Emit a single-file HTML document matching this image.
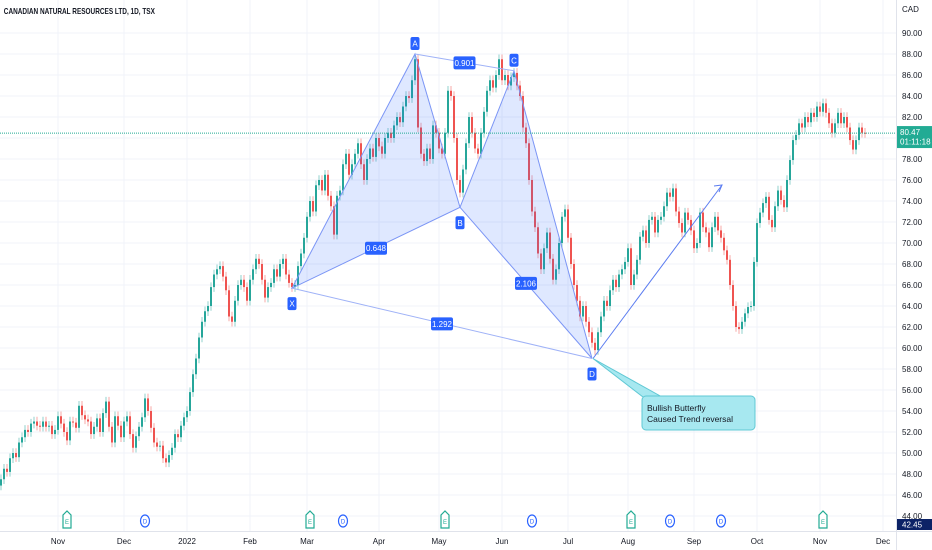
<!DOCTYPE html>
<html><head><meta charset="utf-8">
<style>
html,body{margin:0;padding:0;background:#fff;}
svg{display:block;font-family:"Liberation Sans",sans-serif;}
</style></head>
<body>
<svg id="chart" width="932" height="550" viewBox="0 0 932 550" xmlns="http://www.w3.org/2000/svg">
<g id="grid"></g>
<g id="candles"></g>
<g id="pattern"></g>
<g id="axes"></g>
<text x="5" y="14" font-size="8.5" fill="#131722" font-weight="600" transform="scale(0.76,1)">CANADIAN NATURAL RESOURCES LTD, 1D, TSX</text>
</svg>
<script>
const closes = [
47.5,48.5,48.2,49.5,50,49.6,51,51.5,52.2,52,
52.8,53,52.6,52.5,53,52.5,52.6,51.8,52.2,53.5,
52.8,52,51.2,53,52.9,52.4,54.5,53.6,53.2,53,
51.8,52.5,53.3,52,53.8,54.9,52.5,51,53.5,52.6,
51.5,53,53.5,51.8,50.5,51.6,52.5,53.4,55.2,54,
52.4,51,50.6,50.7,49.5,49.1,49.8,50.5,51.8,51.5,
52.6,53.4,54,55.8,57.5,59,61,62.5,63.5,64,
65.8,67,67.5,67.8,66.8,65.5,63,62.5,64.5,66,
66.5,65.8,64.5,66.5,67.5,68.5,68,66.5,64.8,65.8,
66.2,67.5,66.8,68,68.5,67,66.2,65.8,66,67.8,
69,70.5,72.5,74,73,75.5,76,75,76.5,74.5,
73.5,70.8,74.5,75,77.5,78.5,76.5,77.5,78.5,79.5,
77.5,76,78,79,78.2,80,79.2,78.5,80,80.5,
80,81.2,82,81.5,83,84,83.8,85.5,87.5,81,
78.5,77.8,79,78,81.2,80.5,79,78.5,80.5,84.5,
84,80,76,74.8,77,79.5,82,80.5,79,78.5,
80.5,82.5,84.5,85.5,84.8,86,87.5,85.5,86,85,
85.8,86.2,85,84,81,79.5,76,73,71.5,69,
67.5,69.5,71,68.5,66.5,67.5,70,72.5,73.2,70.5,
68,66,64.5,63,64,62.5,61.5,60.5,59.8,61.5,
63,64.5,64,65.5,66.5,65.8,67,67.5,68.2,69.5,
66,67,68.4,70.6,71.2,70,72.2,72.5,71,72.2,
72.5,73.5,74.8,74.4,75.2,73,71.9,71,72.9,72.2,
71.2,69.5,70,72.9,71.5,71,69.6,71.5,72.5,71.2,
70.5,69.3,68.4,66,64,62,61.8,62.5,63.3,63.9,
64,68.2,71.9,72.9,73.8,74.4,72.2,71.5,73.5,75,
74.1,73.4,76,77.9,79.8,80.3,81.4,81,82,81.5,
82.4,82,83,82.5,83.3,82.4,81.4,80.5,81.4,82.4,
81.4,82,81,79.8,78.9,79.8,81,80.5,80.47
];
const priceTicks = [90,88,86,84,82,80,78,76,74,72,70,68,66,64,62,60,58,56,54,52,50,48,46,44];
const monthLabels = ["Nov","Dec","2022","Feb","Mar","Apr","May","Jun","Jul","Aug","Sep","Oct","Nov","Dec"];
const monthIndex = [19,41,62,83,102,126,146,167,189,209,231,252,273,294];
const earnIndex = [22,103,148,210,274];
const divIndex = [48,114,177,223,240];
const patternIdx = [97,138,153,171,197];
const patternPrice = [65.7,88.0,73.4,86.4,59.0];
const patternNames = ["X","A","B","C","D"];
const ratioValues = ["0.901","0.648","2.106","1.292"];
const lastPrice = 80.47;
const lowPrice = 42.45;

const NS="http://www.w3.org/2000/svg";
function y(p){return 33+(90-p)*10.5;}
function x(i){return 1+i*3.0;}
function mk(tag,attrs,parent){const e=document.createElementNS(NS,tag);for(const k in attrs)e.setAttribute(k,attrs[k]);parent.appendChild(e);return e;}
const grid=document.getElementById('grid'),cg=document.getElementById('candles'),pg=document.getElementById('pattern'),ag=document.getElementById('axes');

priceTicks.forEach(p=>{const l=mk('line',{x1:0,x2:896,y1:y(p),y2:y(p),stroke:'#f0f3fa','stroke-width':1},grid);

});
monthIndex.forEach(i=>{const l=mk('line',{x1:x(i),x2:x(i),y1:0,y2:531,stroke:'#f0f3fa','stroke-width':1},grid);

});

closes.forEach((c,i)=>{
 const o=i===0?c-0.6:closes[i-1];
 const up=c>=o;const col=up?'#26a69a':'#ef5350';
 const hi=Math.max(o,c)+0.45,lo=Math.min(o,c)-0.45;
 const g=mk('g',{},cg);
 
 
 mk('line',{x1:x(i),x2:x(i),y1:y(hi),y2:y(lo),stroke:col,'stroke-opacity':0.5,'stroke-width':1},g);
 const t=Math.min(y(o),y(c)),h=Math.max(1,Math.abs(y(o)-y(c)));
 mk('rect',{x:x(i)-1,y:t,width:2,height:h,fill:col},g);
});

const P=patternIdx.map((i,k)=>[x(i),y(patternPrice[k])]);
const f1=mk('polygon',{points:[P[0],P[1],P[2]].map(p=>p.join(',')).join(' '),fill:'rgba(41,98,255,0.15)',stroke:'#7b95f5','stroke-width':1},pg);


const f2=mk('polygon',{points:[P[2],P[3],P[4]].map(p=>p.join(',')).join(' '),fill:'rgba(41,98,255,0.15)',stroke:'#7b95f5','stroke-width':1},pg);


[[1,3],[0,4]].forEach(([a,b])=>{const l=mk('line',{x1:P[a][0],y1:P[a][1],x2:P[b][0],y2:P[b][1],stroke:'#9fb2f7','stroke-width':1},pg);

});
const ar=mk('g',{},pg);


mk('line',{x1:P[4][0]+1,y1:P[4][1],x2:722,y2:185,stroke:'#5b7cf0','stroke-width':1},ar);
mk('polyline',{points:'714,186 722,185 719,192',fill:'none',stroke:'#5b7cf0','stroke-width':1},ar);
const ratioPairs=[[1,3],[0,2],[2,4],[0,4]];
ratioPairs.forEach((pr,k)=>{
 const mx=(P[pr[0]][0]+P[pr[1]][0])/2,my=(P[pr[0]][1]+P[pr[1]][1])/2;
 const g=mk('g',{},pg);
 
 
 mk('rect',{x:mx-11,y:my-6,width:22,height:13,rx:2,fill:'#2962ff'},g);
 const t=mk('text',{x:mx,y:my+3.5,'font-size':8,fill:'#fff','text-anchor':'middle'},g);t.textContent=ratioValues[k];
});
P.forEach((p,k)=>{
 const below=(k===0||k===2||k===4);
 const ly=below?p[1]+10:p[1]-16;
 const g=mk('g',{},pg);
 
 
 mk('rect',{x:p[0]-4.5,y:ly-1,width:9,height:13,rx:2,fill:'#2962ff'},g);
 const t=mk('text',{x:p[0],y:ly+8.5,'font-size':8,fill:'#fff','text-anchor':'middle'},g);t.textContent=patternNames[k];
});
const cb=mk('g',{},pg);


mk('polygon',{points:`${P[4][0]+1},${P[4][1]} 643,397 662,397`,fill:'#a7e8f0',stroke:'#5fc8d4','stroke-width':1},cb);
mk('rect',{x:642,y:396,width:113,height:34,rx:4,fill:'#a7e8f0',stroke:'#5fc8d4','stroke-width':1},cb);
let t=mk('text',{x:647,y:411,'font-size':8.5,fill:'#131722'},cb);t.textContent='Bullish Butterfly';
t=mk('text',{x:647,y:422,'font-size':8.5,fill:'#131722'},cb);t.textContent='Caused Trend reversal';

const pl=mk('line',{x1:0,x2:896,y1:y(lastPrice),y2:y(lastPrice),stroke:'#22ab94','stroke-width':1,'stroke-dasharray':'1,1'},ag);



earnIndex.forEach(i=>{const g=mk('g',{},ag);
 
 
 const cx=x(i);
 mk('path',{d:`M${cx-4},${515} L${cx-4},${528} L${cx+4},${528} L${cx+4},${515} L${cx},${511} Z`,fill:'#fff',stroke:'#22ab94','stroke-width':1.2},g);
 const tt=mk('text',{x:cx,y:524,'font-size':6,fill:'#22ab94','text-anchor':'middle'},g);tt.textContent='E';});
divIndex.forEach(i=>{const g=mk('g',{},ag);
 
 
 const cx=x(i);
 mk('ellipse',{cx:cx,cy:521,rx:4.5,ry:6,fill:'#fff',stroke:'#2962ff','stroke-width':1.2},g);
 const tt=mk('text',{x:cx,y:523.5,'font-size':6,fill:'#2962ff','text-anchor':'middle'},g);tt.textContent='D';});

mk('line',{x1:896.5,x2:896.5,y1:0,y2:550,stroke:'#e0e3eb','stroke-width':1},ag);
mk('line',{x1:0,x2:932,y1:531.5,y2:531.5,stroke:'#e0e3eb','stroke-width':1},ag);
t=mk('text',{x:902,y:12,'font-size':8,fill:'#131722'},ag);t.textContent='CAD';
priceTicks.forEach(p=>{const tt=mk('text',{x:902,y:y(p)+3,'font-size':8,fill:'#131722'},ag);tt.textContent=p.toFixed(2);
 
 });
monthLabels.forEach((m,k)=>{const tt=mk('text',{x:x(monthIndex[k]),y:544,'font-size':8,fill:'#131722','text-anchor':'middle'},ag);tt.textContent=m;
 
 });
const lb=mk('g',{},ag);


mk('rect',{x:897,y:y(lastPrice)-7,width:35,height:22,fill:'#22ab94'},lb);
t=mk('text',{x:900,y:y(lastPrice)+2,'font-size':8,fill:'#fff'},lb);t.textContent=lastPrice.toFixed(2);
t=mk('text',{x:900,y:y(lastPrice)+11.5,'font-size':8,fill:'#fff'},lb);t.textContent='01:11:18';
const lw=mk('g',{},ag);


mk('rect',{x:897,y:519,width:35,height:11,fill:'#0c2266'},lw);
t=mk('text',{x:902,y:527.5,'font-size':8,fill:'#fff'},lw);t.textContent=lowPrice.toFixed(2);
</script>
</body></html>
